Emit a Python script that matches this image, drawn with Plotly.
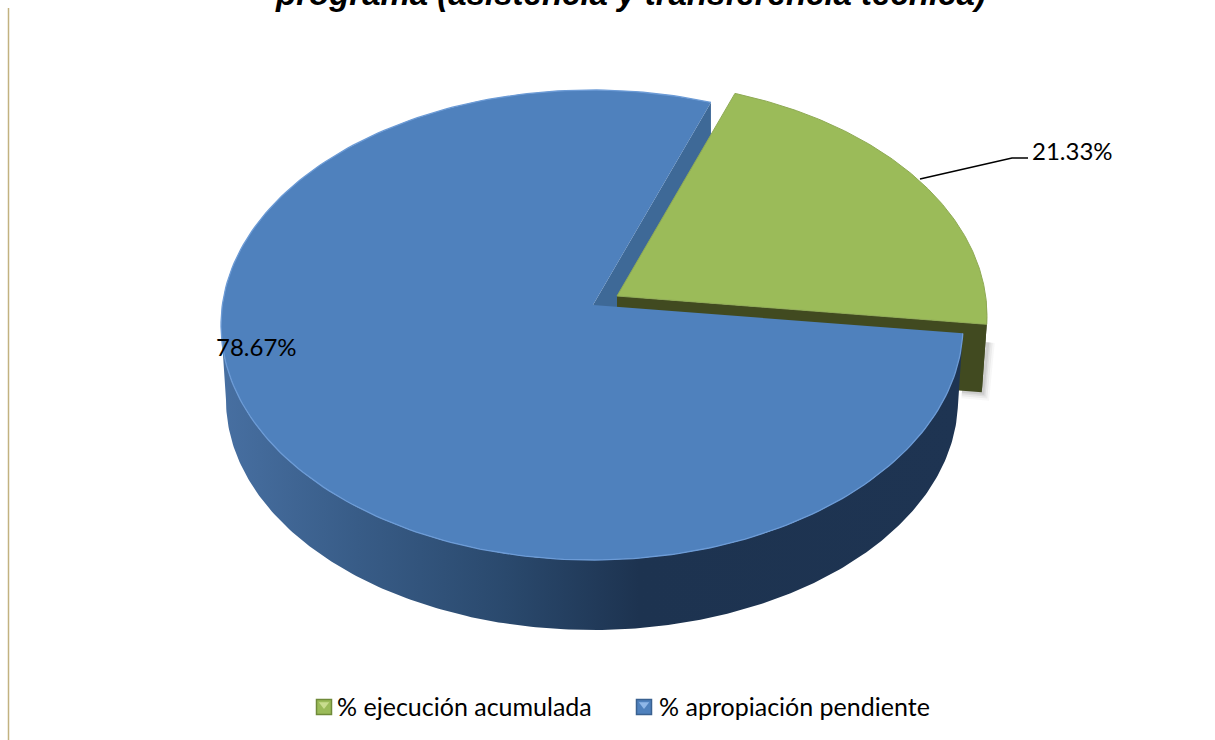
import numpy as np
import plotly.graph_objects as go

categories = ["% ejecución acumulada", "% apropiación pendiente"]
values = [21.33, 78.67]
top_colors = ["#9BBB59", "#4F81BD"]
title_text = "programa (asistencia y transferencia técnica)"

W, H = 1215, 740
CX, CY, RX, RY = 592, 325, 371, 235      # top ellipse of the disc
BCX, BCY, BRX, BRY = 592, 400, 366, 230  # bottom ellipse of the disc
APEX = (593, 305)
SHIFT = (24, -9)      # explosion of the green slice
GREEN_BCY = BCY + SHIFT[1] - 7
DEPTH = 68
START = 71.3          # ellipse angle where the blue slice begins
PERSP = 0.955         # perspective squeeze of the green sweep

green_sweep = values[0] / sum(values) * 360 * PERSP
end_angle = START - green_sweep  # blue runs counter-clockwise from START round to here


def ell(t, cx=CX, cy=CY, rx=RX, ry=RY):
    r = np.radians(t)
    return cx + rx * np.cos(r), cy - ry * np.sin(r)


def arc(a, b, n=240, **k):
    return ell(np.linspace(a, b, n), **k)


fig = go.Figure()


def poly(x, y, color, line=None, width=0, **k):
    fig.add_trace(go.Scatter(
        x=list(x), y=list(y), mode="lines", fill="toself", fillcolor=color,
        line=dict(color=line or color, width=width), hoverinfo="skip",
        showlegend=False, **k))


# green outer rim end points
gx, gy = arc(START, end_angle, cx=CX + SHIFT[0], cy=CY + SHIFT[1])
gax, gay = APEX[0] + SHIFT[0], APEX[1] + SHIFT[1]
bx2, by2 = arc(START, end_angle, cx=BCX + SHIFT[0], cy=GREEN_BCY, rx=BRX, ry=BRY)

# soft shadow of the green block
for w, a in [(14, 0.05), (10, 0.07), (6, 0.09), (3, 0.12)]:
    fig.add_trace(go.Scatter(
        x=[gx[-1] + 1, bx2[-1] + 1, gax + 345], y=[gy[-1] + 18, by2[-1] + 1, by2[-1] - 1],
        mode="lines", line=dict(color=f"rgba(90,90,90,{a})", width=w),
        hoverinfo="skip", showlegend=False))

# inner radial wall of the blue slice (visible in the gap)
sx, sy = ell(START)
poly([APEX[0], sx, sx, APEX[0]], [APEX[1], sy, sy + DEPTH, APEX[1] + DEPTH], "#3E6997")

# green walls
poly([gax, gx[-1], bx2[-1], gax], [gay, gy[-1], by2[-1], gay + DEPTH], "#414A20")
rx_t, ry_t = arc(end_angle + 6, end_angle)
rx_b, ry_b = arc(end_angle, end_angle + 6, cx=BCX + SHIFT[0], cy=GREEN_BCY, rx=BRX, ry=BRY)
poly(np.r_[rx_t + SHIFT[0], rx_b], np.r_[ry_t + SHIFT[1], ry_b], "#414A20")

# green top
poly(np.r_[gax, gx, gax], np.r_[gay, gy, gay], top_colors[0], line="#8FAA55", width=1)

# blue outer wall with a horizontal gradient
wx_t, wy_t = arc(180, 360 + end_angle)
wx_b, wy_b = arc(360 + end_angle, 180, cx=BCX, cy=BCY, rx=BRX, ry=BRY)
fig.add_trace(go.Scatter(
    x=list(np.r_[wx_t, wx_b]), y=list(np.r_[wy_t, wy_b]), mode="lines", fill="toself",
    fillgradient=dict(type="horizontal", start=224, stop=965, colorscale=[
        [0.0, "#476FA1"], [0.18, "#385C87"], [0.38, "#2A496D"],
        [0.56, "#1D3350"], [1.0, "#1E3452"]]),
    line=dict(width=0), hoverinfo="skip", showlegend=False))

# blue top
tx, ty = arc(START, 360 + end_angle)
poly(np.r_[APEX[0], tx, APEX[0]], np.r_[APEX[1], ty, APEX[1]], top_colors[1])
fig.add_trace(go.Scatter(x=list(tx), y=list(ty), mode="lines",
                         line=dict(color="#6C9BD6", width=1.3),
                         hoverinfo="skip", showlegend=False))

# legend entries (the bevelled swatches are drawn just left of the texts)
for name in categories:
    fig.add_trace(go.Scatter(
        x=[None], y=[None], mode="markers", name=name,
        marker=dict(symbol="square", size=15, color="rgba(0,0,0,0)",
                    line=dict(color="rgba(0,0,0,0)", width=0))))

swatch_x = [324, 644]
for sxp, col, edge, light in zip(swatch_x, top_colors, ["#6F8A3A", "#3A6190"], ["#C9DD8E", "#8FB7E8"]):
    fig.add_trace(go.Scatter(
        x=[sxp], y=[707], mode="markers", hoverinfo="skip", showlegend=False,
        marker=dict(symbol="square", size=15, color=col, line=dict(color=edge, width=1.5))))
    fig.add_trace(go.Scatter(
        x=[sxp], y=[704.5], mode="markers", hoverinfo="skip", showlegend=False,
        marker=dict(symbol="triangle-down", size=9, color=light, line=dict(width=0))))

# leader line of the green label
fig.add_trace(go.Scatter(x=[920, 1012, 1028], y=[179, 158, 158], mode="lines",
                         line=dict(color="#000000", width=1.5), hoverinfo="skip", showlegend=False))

LABEL = dict(family="Lato, sans-serif", size=24, color="#000000")
annotations = [
    dict(x=1030, y=150, text=f"{values[0]:.2f}%", xanchor="left", yanchor="middle",
         showarrow=False, font=LABEL),
    dict(x=214, y=346, text=f"{values[1]:.2f}%", xanchor="left", yanchor="middle",
         showarrow=False, font=LABEL),
    dict(x=630, y=14, text=f"<b><i>{title_text}</i></b>", xanchor="center", yanchor="bottom",
         showarrow=False,
         font=dict(family="Liberation Sans, Arial, sans-serif", size=33, color="#000000")),
]

fig.update_layout(
    width=W, height=H, autosize=False,
    margin=dict(l=0, r=0, t=0, b=0),
    paper_bgcolor="#FFFFFF", plot_bgcolor="#FFFFFF",
    xaxis=dict(range=[0, W], visible=False, fixedrange=True),
    yaxis=dict(range=[H, 0], visible=False, fixedrange=True),
    annotations=annotations,
    shapes=[dict(type="line", x0=8.5, x1=8.5, y0=8, y1=740, xref="x", yref="y",
                 line=dict(color="#C2B280", width=1.5))],
    legend=dict(orientation="h", x=0.2445, y=0.0455, xanchor="left", yanchor="middle",
                font=dict(family="Lato, sans-serif", size=25, color="#000000"),
                itemwidth=30, bgcolor="rgba(0,0,0,0)", entrywidth=277, entrywidthmode="pixels"),
    showlegend=True,
)

fig.write_html("out.html", post_script="document.body.style.margin='0';",
               config=dict(displayModeBar=False))
